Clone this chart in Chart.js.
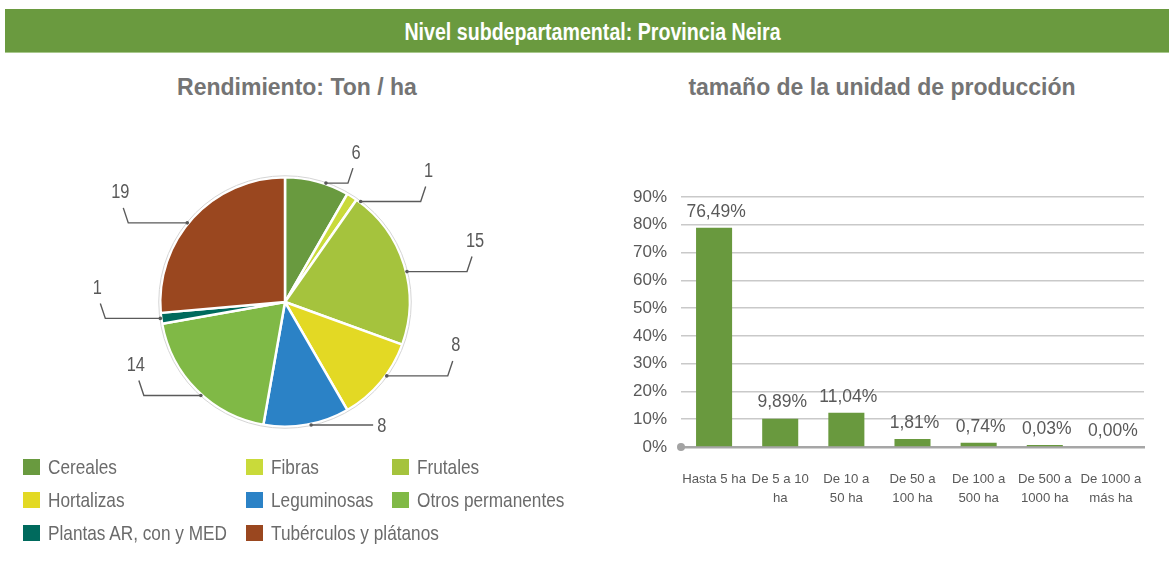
<!DOCTYPE html>
<html>
<head>
<meta charset="utf-8">
<script src="https://cdn.jsdelivr.net/npm/chart.js@4.4.1/dist/chart.umd.min.js"></script>
<style>
  body { margin: 0; width: 1169px; height: 578px; background: #fff; position: relative; overflow: hidden; font-family: "Liberation Sans", Arial, sans-serif; }
  #cabecera { position: absolute; left: 5px; top: 9px; width: 1164px; height: 43px; background: #6a9a3f; border-bottom: 1px solid #a8c88c;
    color: #fff; font: bold 23px "Liberation Sans", Arial, sans-serif; text-align: center; line-height: 46px; }
  #cabecera span { display: inline-block; transform: scaleX(0.853); transform-origin: center; margin-left: 10px; }
  .titulo { position: absolute; top: 74px; font-weight: bold; font-size: 23px; color: #747474; text-align: center; white-space: nowrap; }
  #t1 { left: 97px; width: 400px; }
  #t2 { left: 682px; width: 400px; }
  #cajaPie { position: absolute; left: 60px; top: 130px; width: 460px; height: 330px; }
  #cajaBar { position: absolute; left: 600px; top: 150px; width: 569px; height: 370px; }
  #leyenda { position: absolute; left: 23px; top: 450px; display: grid; grid-template-columns: 223px 146px 200px; grid-auto-rows: 33px; }
  .item { display: flex; align-items: center; font-size: 21px; color: #6b6b6b; white-space: nowrap; }
  .item .caja { flex: 0 0 17px; height: 16px; margin-right: 8px; }
  .item .txt { display: inline-block; transform: scaleX(0.82); transform-origin: left center; }
</style>
</head>
<body>
<div id="cabecera"><span>Nivel subdepartamental: Provincia Neira</span></div>
<div class="titulo" id="t1">Rendimiento: Ton / ha</div>
<div class="titulo" id="t2">tamaño de la unidad de producción</div>
<div id="cajaPie"><canvas id="pie"></canvas></div>
<div id="leyenda"></div>
<div id="cajaBar"><canvas id="barras"></canvas></div>

<script>
const categorias = ['Cereales', 'Fibras', 'Frutales', 'Hortalizas', 'Leguminosas', 'Otros permanentes', 'Plantas AR, con y MED', 'Tubérculos y plátanos']
const rendimiento = [6, 1, 15, 8, 8, 14, 1, 19]
const coloresPie = ['#699a3f', '#c9da3a', '#a5c33d', '#e3d924', '#2b82c6', '#80b946', '#006a5d', '#9a471f']

const tamanos = [['Hasta 5 ha'], ['De 5 a 10', 'ha'], ['De 10 a', '50 ha'], ['De 50 a', '100 ha'], ['De 100 a', '500 ha'], ['De 500 a', '1000 ha'], ['De 1000 a', 'más ha']]
const participacion = [78.9, 10.2, 12.3, 2.9, 1.5, 0.7, 0]
const etiquetasBarra = ['76,49%', '9,89%', '11,04%', '1,81%', '0,74%', '0,03%', '0,00%']

const GRIS = '#595959'

// leyenda en 3 columnas
let html = ''
categorias.forEach((c, i) => {
    html += `<div class="item"><span class="caja" style="background:${coloresPie[i]}"></span><span class="txt">${c}</span></div>`
})
document.getElementById('leyenda').innerHTML = html

// lineas guia con el valor de cada porcion
const guias = {
    id: 'guias',
    afterDatasetsDraw(chart, args, opts) {
        const ctx = chart.ctx
        const arcos = chart.getDatasetMeta(0).data
        ctx.save()
        // borde exterior gris claro
        const a0 = arcos[0]
        ctx.beginPath()
        ctx.arc(a0.x, a0.y, a0.outerRadius + 1.5, 0, Math.PI * 2)
        ctx.strokeStyle = '#d5d5d5'
        ctx.lineWidth = 1
        ctx.stroke()

        ctx.strokeStyle = '#5a5a5a'
        ctx.fillStyle = GRIS
        ctx.lineWidth = 1.4
        ctx.font = '20px "Liberation Sans", Arial, sans-serif'
        ctx.textBaseline = 'middle'
        arcos.forEach((arco, i) => {
            const mid = (arco.startAngle + arco.endAngle) / 2 + opts.giro[i] * Math.PI / 180
            const ax = arco.x + Math.cos(mid) * (arco.outerRadius + 1)
            const ay = arco.y + Math.sin(mid) * (arco.outerRadius + 1)
            const dir = ax >= arco.x ? 1 : -1
            const ex = ax + dir * opts.largos[i]
            ctx.beginPath()
            ctx.arc(ax, ay, 1.8, 0, Math.PI * 2)
            ctx.fill()
            ctx.beginPath()
            ctx.moveTo(ax, ay)
            ctx.lineTo(ex, ay)
            const txt = String(rendimiento[i])
            let tx, ty
            if (opts.rectas.includes(i)) {
                ctx.stroke()
                ctx.textAlign = 'left'
                tx = ex + 4; ty = ay + 1
            } else {
                const fx = ex + dir * 5, fy = ay - 15
                ctx.lineTo(fx, fy)
                ctx.stroke()
                ctx.textAlign = 'center'
                tx = fx + dir * 3; ty = fy - 15
            }
            ctx.save()
            ctx.translate(tx, ty)
            ctx.scale(0.82, 1)
            ctx.fillText(txt, 0, 0)
            ctx.restore()
        })
        ctx.restore()
    }
}

new Chart(document.getElementById('pie'), {
    type: 'pie',
    data: {
        labels: categorias,
        datasets: [{
            data: rendimiento,
            backgroundColor: coloresPie,
            borderColor: '#ffffff',
            borderWidth: 2.5
        }]
    },
    options: {
        responsive: true,
        maintainAspectRatio: false,
        animation: false,
        layout: { padding: { left: 99, right: 109, top: 46, bottom: 32 } },
        plugins: {
            legend: { display: false },
            tooltip: { enabled: false },
            guias: {
                giro: [4, 4.5, 3.5, -4, -2, -3, 0, -3.5],
                largos: [22, 60, 60, 61, 62, 57, 55, 59],
                rectas: [4]
            }
        }
    },
    plugins: [guias]
})

// etiquetas sobre las barras y punto en el origen del eje
const extrasBarra = {
    id: 'extrasBarra',
    afterDatasetsDraw(chart) {
        const ctx = chart.ctx
        const meta = chart.getDatasetMeta(0)
        const y0 = chart.scales.y.getPixelForValue(0)
        ctx.save()
        ctx.fillStyle = '#a3a3a3'
        ctx.beginPath()
        ctx.arc(chart.chartArea.left, y0, 4, 0, Math.PI * 2)
        ctx.fill()
        ctx.fillStyle = GRIS
        ctx.font = '17.5px "Liberation Sans", Arial, sans-serif'
        ctx.textAlign = 'center'
        ctx.textBaseline = 'middle'
        meta.data.forEach((bar, i) => {
            ctx.fillText(etiquetasBarra[i], bar.x + 2, bar.y - 16)
        })
        ctx.restore()
    }
}

new Chart(document.getElementById('barras'), {
    type: 'bar',
    data: {
        labels: tamanos,
        datasets: [{
            data: participacion,
            backgroundColor: '#69993e',
            barPercentage: 0.545,
            categoryPercentage: 1
        }]
    },
    options: {
        responsive: true,
        maintainAspectRatio: false,
        animation: false,
        layout: { padding: { left: 0, right: 25, top: 47, bottom: 0 } },
        plugins: { legend: { display: false }, tooltip: { enabled: false } },
        scales: {
            x: {
                afterFit: s => { s.height = 73 },
                grid: { display: false },
                border: { display: true, color: '#a6a6a6', width: 2.5 },
                ticks: {
                    color: GRIS,
                    font: { family: '"Liberation Sans", Arial, sans-serif', size: 13.2, lineHeight: 1.5 },
                    padding: 14,
                    maxRotation: 0,
                    autoSkip: false
                }
            },
            y: {
                min: 0,
                max: 90,
                afterFit: s => { s.width = 81 },
                grid: { color: '#c9c9c9', lineWidth: 1.5, drawTicks: false },
                border: { display: false },
                ticks: {
                    stepSize: 10,
                    padding: 14,
                    color: GRIS,
                    font: { family: '"Liberation Sans", Arial, sans-serif', size: 17 },
                    callback: v => v + '%'
                }
            }
        }
    },
    plugins: [extrasBarra]
})
</script>
</body>
</html>
